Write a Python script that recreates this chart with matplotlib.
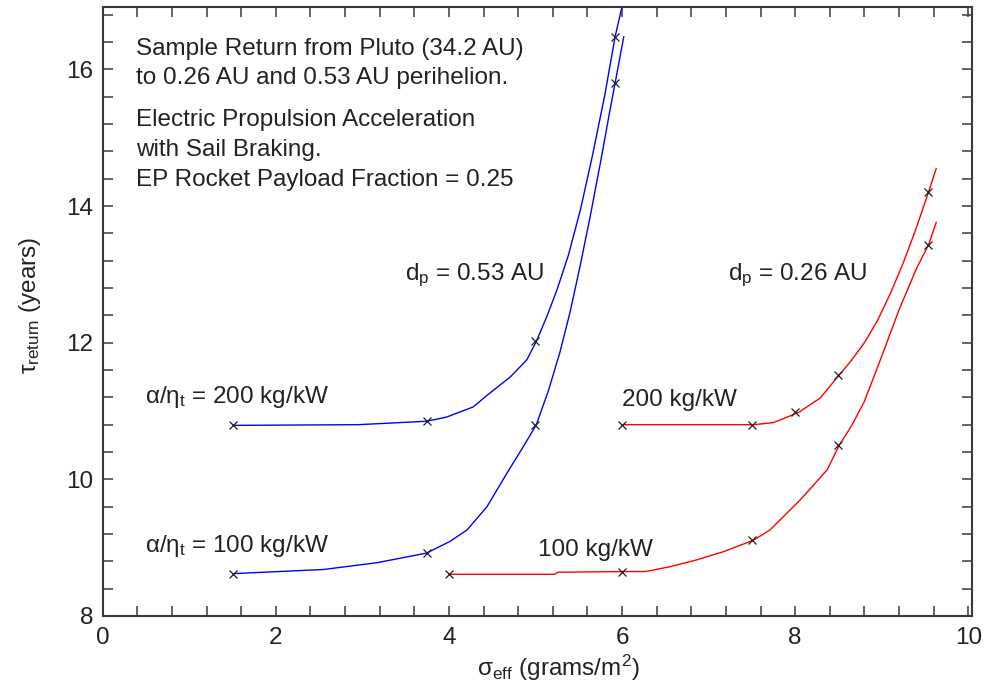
import matplotlib
matplotlib.use('Agg')
import matplotlib.pyplot as plt
import numpy as np

plt.rcParams['font.family'] = ['Liberation Sans', 'DejaVu Sans']
plt.rcParams['mathtext.fontset'] = 'custom'
plt.rcParams['mathtext.rm'] = 'Liberation Sans'
plt.rcParams['mathtext.it'] = 'Liberation Sans'

# ── Data ───────────────────────────────────────────────────────────────
# d_p = 0.53 AU, alpha/eta = 200 kg/kW  (blue, upper)
b200_line_x = [1.51, 2.95, 3.74, 3.97, 4.28, 4.47, 4.71, 4.90, 5.01, 5.13,
               5.25, 5.38, 5.52, 5.66, 5.80, 5.92, 6.00]
b200_line_y = [10.79, 10.80, 10.85, 10.91, 11.06, 11.26, 11.50, 11.75, 12.02, 12.38,
               12.78, 13.28, 13.95, 14.75, 15.62, 16.48, 16.92]
b200_pts_x = [1.5, 3.75, 5.0, 5.92]
b200_pts_y = [10.79, 10.85, 12.02, 16.48]

# d_p = 0.53 AU, alpha/eta = 100 kg/kW  (blue, lower)
b100_line_x = [1.51, 2.55, 3.17, 3.74, 4.01, 4.21, 4.44, 4.67, 4.86, 5.01,
               5.15, 5.28, 5.40, 5.52, 5.64, 5.76, 5.86, 5.92, 6.02]
b100_line_y = [8.62, 8.68, 8.78, 8.92, 9.09, 9.26, 9.60, 10.09, 10.48, 10.80,
               11.30, 11.85, 12.45, 13.15, 13.90, 14.70, 15.40, 15.80, 16.48]
b100_pts_x = [1.5, 3.75, 5.0, 5.92]
b100_pts_y = [8.62, 8.92, 10.80, 15.80]

# d_p = 0.26 AU, alpha/eta = 200 kg/kW  (red, upper)
r200_line_x = [6.02, 7.52, 7.75, 8.04, 8.29, 8.51, 8.65, 8.80, 8.95, 9.10,
               9.25, 9.40, 9.54, 9.63]
r200_line_y = [10.80, 10.80, 10.83, 10.98, 11.19, 11.53, 11.74, 12.00, 12.32, 12.72,
               13.17, 13.68, 14.20, 14.55]
r200_pts_x = [6.0, 7.5, 8.0, 8.5, 9.54]
r200_pts_y = [10.80, 10.80, 10.98, 11.53, 14.20]

# d_p = 0.26 AU, alpha/eta = 100 kg/kW  (red, lower)
r100_line_x = [4.01, 5.22, 5.26, 6.02, 6.27, 6.55, 6.86, 7.17, 7.52, 7.71,
               8.06, 8.37, 8.51, 8.65, 8.80, 9.00, 9.20, 9.40, 9.54, 9.63]
r100_line_y = [8.61, 8.61, 8.64, 8.65, 8.65, 8.72, 8.82, 8.94, 9.11, 9.26,
               9.70, 10.14, 10.50, 10.78, 11.14, 11.80, 12.48, 13.08, 13.43, 13.76]
r100_pts_x = [4.0, 6.0, 7.5, 8.5, 9.54]
r100_pts_y = [8.61, 8.65, 9.11, 10.50, 13.43]

xticks = np.arange(0, 10.01, 0.4)
yticks = np.arange(8, 16.81, 0.4)
xlabels = ['0', '2', '4', '6', '8', '10']
ylabels = ['8', '10', '12', '14', '16']

BLUE, RED, SPINE, INK = '#0000ff', '#ff0000', '#3a3a3a', '#222222'
FS = 17.5

fig = plt.figure(figsize=(9.85, 6.96), dpi=100)
fig.patch.set_facecolor('white')
ax = fig.add_axes([0.1043, 0.115, 0.8822, 0.8755])

for lx, ly, px, py, col in [
        (b200_line_x, b200_line_y, b200_pts_x, b200_pts_y, BLUE),
        (b100_line_x, b100_line_y, b100_pts_x, b100_pts_y, BLUE),
        (r200_line_x, r200_line_y, r200_pts_x, r200_pts_y, RED),
        (r100_line_x, r100_line_y, r100_pts_x, r100_pts_y, RED)]:
    ax.plot(lx, ly, color=col, lw=1.0, zorder=2)
    ax.plot(px, py, ls='none', marker='x', ms=6, mew=0.9, color='#202020', zorder=3)

ax.set_xlim(0, 10.04)
ax.set_ylim(8, 16.92)

# every 0.4 gets a tick; only even values are labelled
ax.set_xticks(xticks)
ax.set_xticklabels([xlabels[i // 5] if i % 5 == 0 else '' for i in range(len(xticks))])
ax.set_yticks(yticks)
ax.set_yticklabels([ylabels[i // 5] if i % 5 == 0 else '' for i in range(len(yticks))])
ax.tick_params(direction='in', length=7.2, width=1.1, color=SPINE,
               top=True, right=True, labelsize=FS, labelcolor=INK)
ax.tick_params(axis='x', pad=8)
ax.tick_params(axis='y', pad=7)
for s in ax.spines.values():
    s.set_linewidth(1.5)
    s.set_color(SPINE)

fig.text(558 / 985, 1 - 668 / 696, r'$\mathregular{σ_{eff}}$ (grams/m$\mathregular{^2}$)',
         fontsize=FS, color=INK, ha='center', va='center')
fig.text(30 / 985, 1 - 305 / 696, r'$\mathregular{τ_{return}}$ (years)',
         fontsize=FS, color=INK, ha='center', va='center', rotation=90)

TXT = dict(fontsize=FS, color=INK, ha='left', va='baseline')
ax.text(0.385, 16.21, 'Sample Return from Pluto (34.2 AU)', **TXT)
ax.text(0.385, 15.79, 'to 0.26 AU and 0.53 AU perihelion.', **TXT)
ax.text(0.385, 15.17, 'Electric Propulsion Acceleration', **TXT)
ax.text(0.385, 14.735, 'with Sail Braking.', **TXT)
ax.text(0.385, 14.30, 'EP Rocket Payload Fraction = 0.25', **TXT)

ax.text(3.49, 12.92, r'd$_\mathregular{p}$ = 0.53 AU', **TXT)
ax.text(7.23, 12.92, r'd$_\mathregular{p}$ = 0.26 AU', **TXT)
ax.text(0.49, 11.12, r'$\mathregular{α/η_t}$ = 200 kg/kW', **TXT)
ax.text(0.49, 8.93, r'$\mathregular{α/η_t}$ = 100 kg/kW', **TXT)
ax.text(6.00, 11.07, '200 kg/kW', **TXT)
ax.text(5.03, 8.88, '100 kg/kW', **TXT)

fig.savefig('out.png', dpi=100)
